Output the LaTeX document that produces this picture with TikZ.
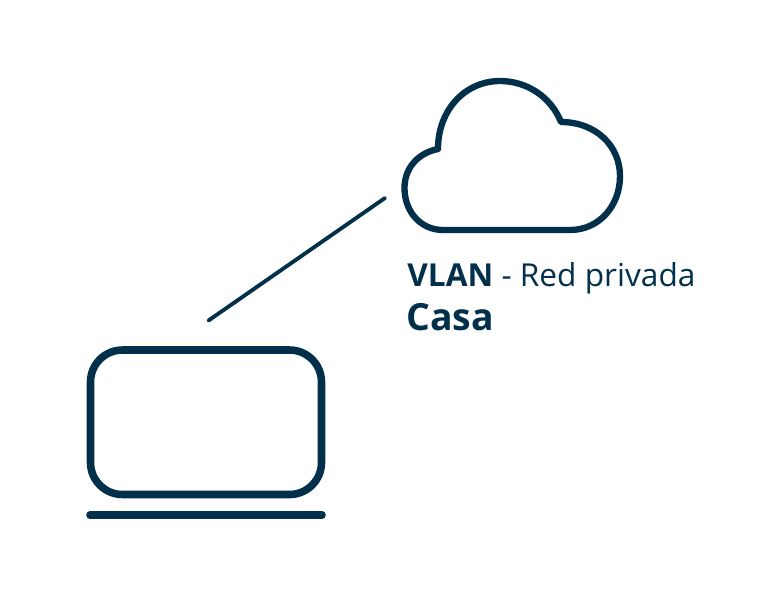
\documentclass[tikz,border=0pt]{standalone}
\usepackage{tikz}
\usepackage{fontspec}
\setmainfont{Open Sans}
\definecolor{navy}{HTML}{02304A}

\begin{document}
\begin{tikzpicture}[x=0.02cm,y=-0.02cm]
    \useasboundingbox(0,0)rectangle(772,600);
    \tikzset{label/.style={anchor=base west,inner sep=0pt,text=navy}}

    % cloud
    \draw[navy,line width=3.6pt,line join=round]
        (443,230)--(570,230)
        ..controls(599,230)and(620,206)..(620,176)
        ..controls(620,146)and(596,122)..(561,122)
        ..controls(551,97)and(527,81)..(500,81)
        ..controls(465,81)and(438,110)..(438,149)
        ..controls(418,153)and(404.5,168)..(404.5,188)
        ..controls(404.5,212)and(421,230)..(443,230)--cycle;

    % laptop
    \draw[navy,line width=4.3pt,rounded corners=0.64cm](90.5,350)rectangle(321.5,494.5);
    \draw[navy,line width=4.3pt,line cap=round](90,515)--(322,515);

    % link
    \coordinate(cloudend)at(385,198);
    \coordinate(laptopend)at(208.5,320.5);
    \draw[navy,line width=2.2pt,line cap=round](cloudend)--(laptopend);

    \node[label,font=\fontsize{18}{22}\selectfont](vlan)at(407,286){\textbf{VLAN} - Red privada};
    \node[label,font=\fontsize{21.3}{28}\selectfont\bfseries](casa)at(406,330){Casa};
\end{tikzpicture}
\end{document}
